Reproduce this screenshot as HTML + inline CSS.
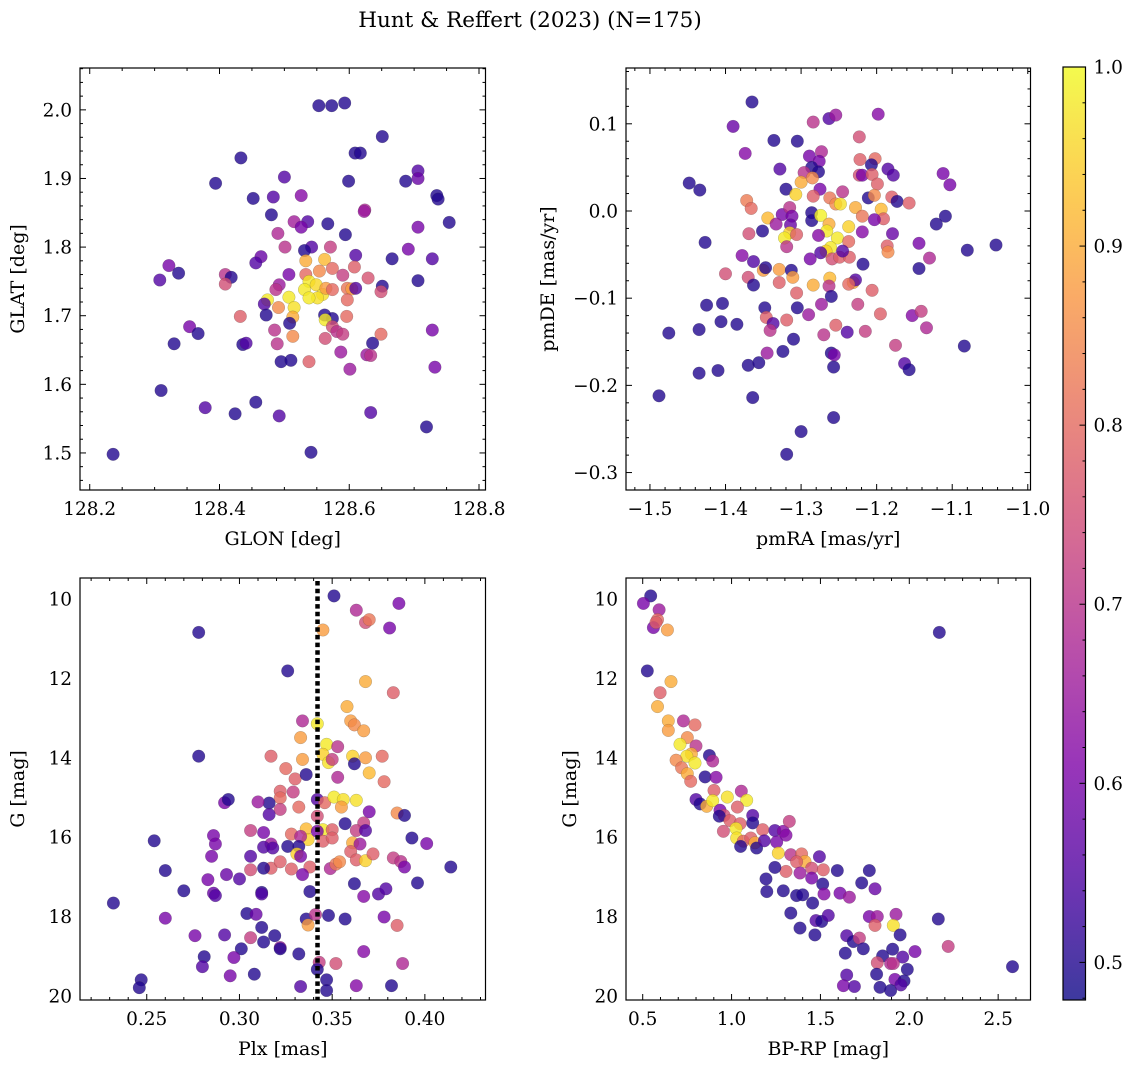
<!DOCTYPE html>
<html><head><meta charset="utf-8">
<style>
html,body{margin:0;padding:0;background:#fff;}
svg{display:block;font-family:"DejaVu Serif","Liberation Serif",serif;}
</style></head>
<body>
<svg id="fig" width="1136" height="1067" viewBox="0 0 1136 1067" xmlns="http://www.w3.org/2000/svg">
<text x="530" y="27" font-size="21.5" text-anchor="middle">Hunt &amp; Reffert (2023) (N=175)</text>
</svg>
<script>
// ---- Panel 1: GLON vs GLAT ----
const p1x=[128.553,128.573,128.593,128.651,128.609,128.617,128.433,128.394,128.500,128.599,128.687,128.706,128.706,128.452,128.483,128.526,128.735,128.737,128.480,128.624,128.623,128.515,128.536,128.526,128.567,128.754,128.490,128.594,128.706,128.501,128.571,128.542,128.531,128.610,128.691,128.666,128.728,128.464,128.456,128.322,128.337,128.308,128.409,128.418,128.409,128.507,128.533,128.562,128.608,128.629,128.706,128.651,128.590,128.574,128.554,128.533,128.538,128.549,128.531,128.559,128.551,128.538,128.564,128.574,128.492,128.487,128.597,128.604,128.610,128.649,128.597,128.474,128.507,128.515,128.491,128.513,128.469,128.472,128.508,128.562,128.574,128.563,128.574,128.581,128.590,128.596,128.432,128.354,128.367,128.330,128.436,128.441,128.485,128.489,128.513,128.563,128.587,128.636,128.649,128.627,128.633,128.495,128.510,128.538,128.601,128.728,128.732,128.310,128.378,128.424,128.456,128.492,128.633,128.719,128.541,128.236];
const p1y=[2.006,2.006,2.010,1.961,1.937,1.937,1.930,1.893,1.902,1.896,1.896,1.911,1.900,1.871,1.873,1.875,1.875,1.870,1.847,1.854,1.852,1.837,1.837,1.829,1.834,1.836,1.820,1.818,1.829,1.800,1.800,1.800,1.795,1.788,1.797,1.783,1.783,1.786,1.777,1.773,1.762,1.752,1.760,1.756,1.746,1.760,1.780,1.782,1.771,1.755,1.751,1.743,1.759,1.769,1.765,1.760,1.750,1.745,1.738,1.731,1.726,1.726,1.740,1.738,1.745,1.738,1.740,1.739,1.740,1.735,1.723,1.723,1.727,1.712,1.712,1.698,1.717,1.701,1.689,1.701,1.696,1.694,1.684,1.677,1.673,1.699,1.699,1.684,1.674,1.659,1.658,1.660,1.679,1.659,1.670,1.667,1.647,1.660,1.673,1.643,1.642,1.633,1.635,1.633,1.622,1.679,1.625,1.591,1.566,1.557,1.574,1.554,1.559,1.538,1.501,1.498];
const p1c=[.5,.5,.5,.5,.5,.5,.5,.5,.55,.5,.5,.55,.58,.5,.55,.62,.5,.5,.5,.68,.65,.66,.55,.6,.5,.5,.68,.5,.6,.7,.72,.55,.5,.55,.6,.5,.55,.58,.55,.6,.5,.55,.7,.5,.75,.6,.9,.92,.78,.76,.5,.5,.72,.8,.85,.8,.98,.96,.98,.97,.97,.98,.88,.8,.65,.7,.82,.88,.55,.75,.8,.98,.98,.97,.85,.9,.55,.5,.5,.5,.5,.98,.75,.7,.72,.8,.78,.6,.5,.5,.5,.55,.7,.7,.85,.75,.65,.5,.8,.65,.7,.5,.5,.78,.65,.6,.6,.5,.55,.5,.5,.55,.55,.5,.5,.5];
const p1xticks=[128.2,128.4,128.6,128.8];
const p1yticks=[1.5,1.6,1.7,1.8,1.9,2.0];
const p1xlabels=["128.2","128.4","128.6","128.8"];
const p1ylabels=["1.5","1.6","1.7","1.8","1.9","2.0"];

// ---- Panel 2: pmRA vs pmDE ----
const p2x=[-1.365,-1.284,-1.263,-1.254,-1.198,-1.390,-1.336,-1.305,-1.223,-1.374,-1.289,-1.273,-1.276,-1.328,-1.286,-1.277,-1.296,-1.222,-1.202,-1.207,-1.185,-1.178,-1.223,-1.219,-1.206,-1.199,-1.448,-1.434,-1.320,-1.300,-1.285,-1.275,-1.307,-1.284,-1.245,-1.211,-1.203,-1.180,-1.173,-1.157,-1.112,-1.103,-1.372,-1.366,-1.344,-1.325,-1.315,-1.312,-1.262,-1.254,-1.248,-1.228,-1.219,-1.194,-1.191,-1.203,-1.286,-1.286,-1.274,-1.263,-1.266,-1.237,-1.252,-1.261,-1.267,-1.109,-1.121,-1.333,-1.314,-1.315,-1.322,-1.306,-1.351,-1.369,-1.427,-1.319,-1.277,-1.237,-1.219,-1.179,-1.186,-1.185,-1.144,-1.080,-1.042,-1.378,-1.363,-1.288,-1.274,-1.259,-1.249,-1.236,-1.245,-1.218,-1.130,-1.144,-1.400,-1.370,-1.350,-1.347,-1.329,-1.313,-1.311,-1.363,-1.329,-1.284,-1.262,-1.263,-1.231,-1.228,-1.237,-1.306,-1.260,-1.206,-1.425,-1.404,-1.348,-1.305,-1.273,-1.225,-1.290,-1.195,-1.153,-1.141,-1.346,-1.337,-1.341,-1.319,-1.406,-1.385,-1.435,-1.475,-1.310,-1.270,-1.254,-1.239,-1.215,-1.134,-1.175,-1.084,-1.345,-1.324,-1.260,-1.256,-1.257,-1.370,-1.356,-1.435,-1.410,-1.163,-1.157,-1.488,-1.364,-1.257,-1.300,-1.319];
const p2y=[.125,.102,.106,.110,.111,.097,.081,.080,.085,.066,.063,.068,.057,.048,.050,.045,.044,.059,.060,.053,.048,.041,.041,.041,.042,.031,.032,.024,.025,.033,.038,.025,.019,.017,.022,.015,.018,.016,.011,.009,.043,.030,.012,.003,-.008,-.004,.004,-.006,.015,.008,.008,.004,-.006,.002,-.009,-.010,-.002,-.011,-.005,-.015,-.023,-.018,-.031,-.042,-.046,-.006,-.015,-.015,-.016,-.025,-.031,-.027,-.023,-.026,-.036,-.041,-.028,-.035,-.024,-.026,-.040,-.047,-.037,-.045,-.039,-.051,-.058,-.055,-.048,-.055,-.053,-.053,-.046,-.061,-.054,-.066,-.072,-.076,-.068,-.065,-.067,-.068,-.076,-.085,-.082,-.085,-.077,-.086,-.082,-.079,-.084,-.094,-.098,-.091,-.108,-.106,-.111,-.111,-.107,-.107,-.119,-.118,-.120,-.115,-.122,-.129,-.137,-.125,-.127,-.130,-.136,-.140,-.147,-.142,-.131,-.139,-.138,-.134,-.154,-.155,-.163,-.161,-.163,-.165,-.179,-.177,-.174,-.186,-.183,-.175,-.182,-.212,-.214,-.237,-.253,-.279];
const p2c=[.5,.7,.55,.65,.62,.58,.5,.5,.75,.62,.6,.68,.6,.55,.5,.5,.7,.78,.8,.5,.55,.55,.75,.6,.78,.78,.5,.5,.5,.9,.85,.6,.95,.78,.7,.5,.85,.78,.5,.78,.6,.6,.83,.8,.92,.6,.7,.6,.82,.85,.97,.9,.82,.92,.78,.6,.5,.5,.99,.9,.98,.95,.98,.98,.95,.5,.5,.65,.58,.95,.98,.78,.5,.75,.5,.7,.62,.8,.62,.58,.78,.85,.6,.5,.5,.62,.55,.6,.55,.75,.78,.78,.55,.5,.68,.5,.75,.75,.88,.5,.88,.5,.88,.5,.78,.9,.92,.7,.9,.55,.8,.78,.5,.78,.5,.5,.5,.5,.65,.72,.65,.78,.62,.72,.78,.55,.7,.78,.5,.5,.5,.5,.5,.7,.78,.55,.72,.68,.72,.5,.65,.5,.5,.6,.5,.5,.5,.5,.5,.55,.5,.5,.5,.5,.5,.5];
const p2xticks=[-1.5,-1.4,-1.3,-1.2,-1.1,-1.0];
const p2yticks=[-0.3,-0.2,-0.1,0.0,0.1];
const p2xlabels=["\u22121.5","\u22121.4","\u22121.3","\u22121.2","\u22121.1","\u22121.0"];
const p2ylabels=["\u22120.3","\u22120.2","\u22120.1","0.0","0.1"];

// ---- Panel 3: Plx vs G ----
const p3x=[.351,.386,.363,.368,.370,.381,.345,.278,.326,.368,.383,.358,.360,.362,.367,.334,.342,.333,.347,.353,.345,.348,.350,.334,.317,.278,.361,.362,.368,.377,.370,.325,.330,.336,.353,.378,.322,.322,.329,.342,.346,.351,.356,.363,.355,.332,.322,.316,.310,.292,.294,.316,.370,.385,.389,.342,.345,.336,.337,.342,.350,.357,.367,.363,.368,.306,.313,.328,.333,.345,.350,.361,.365,.360,.363,.368,.372,.383,.387,.389,.286,.287,.254,.317,.313,.318,.326,.332,.331,.333,.306,.285,.317,.313,.322,.328,.338,.349,.352,.354,.393,.401,.414,.260,.283,.293,.300,.306,.334,.270,.286,.287,.312,.312,.338,.362,.367,.375,.379,.396,.232,.260,.304,.309,.336,.337,.341,.348,.357,.378,.385,.276,.292,.312,.313,.319,.306,.322,.322,.301,.281,.280,.297,.332,.367,.343,.352,.388,.342,.295,.308,.247,.246,.347,.347,.333,.363,.382];
const p3y=[9.92,10.11,10.28,10.59,10.52,10.73,10.78,10.84,11.81,12.08,12.36,12.71,13.07,13.17,13.32,13.07,13.14,13.49,13.66,13.72,13.91,14.12,14.04,14.04,13.96,13.96,13.96,14.15,14.00,13.96,14.38,14.27,14.53,14.42,14.49,14.60,14.84,15.01,14.86,15.05,15.13,14.99,15.05,15.07,15.24,15.24,15.30,15.14,15.11,15.13,15.05,15.43,15.36,15.39,15.45,15.47,15.81,15.79,16.06,15.85,15.81,15.66,15.64,15.83,15.83,15.83,15.88,15.92,15.98,16.10,16.02,16.14,16.17,16.36,16.57,16.59,16.42,16.52,16.61,16.75,15.96,16.17,16.09,16.17,16.25,16.27,16.23,16.23,16.42,16.48,16.48,16.48,16.78,16.78,16.62,16.80,16.75,16.79,16.68,16.62,16.02,16.16,16.75,16.84,17.07,16.94,17.05,16.82,16.94,17.35,17.41,17.47,17.39,17.43,17.37,17.17,17.49,17.43,17.30,17.15,17.66,18.04,17.92,17.94,18.06,18.21,17.95,17.97,18.06,18.01,18.22,18.48,18.46,18.27,18.64,18.48,18.53,18.78,18.81,18.81,19.01,19.26,19.03,18.94,18.88,19.15,19.18,19.18,19.33,19.49,19.45,19.59,19.79,19.59,19.86,19.76,19.74,19.74];
const p3c=[.5,.6,.68,.75,.82,.6,.88,.5,.5,.9,.78,.9,.88,.85,.88,.68,.98,.88,.98,.7,.95,.97,.72,.88,.78,.5,.95,.5,.88,.8,.92,.8,.78,.5,.68,.8,.78,.8,.72,.55,.8,.98,.97,.97,.88,.8,.72,.5,.65,.6,.5,.55,.6,.85,.5,.75,.98,.92,.95,.6,.78,.5,.72,.72,.55,.72,.6,.8,.68,.78,.78,.9,.65,.78,.78,.95,.78,.72,.7,.6,.6,.6,.5,.65,.55,.55,.5,.5,.95,.6,.55,.6,.78,.5,.78,.78,.78,.68,.82,.85,.5,.6,.5,.5,.6,.58,.55,.75,.6,.5,.58,.55,.5,.55,.5,.5,.62,.55,.55,.5,.5,.6,.5,.58,.5,.88,.7,.5,.5,.6,.78,.6,.55,.5,.5,.5,.72,.65,.5,.5,.5,.55,.6,.5,.62,.72,.75,.68,.5,.6,.5,.5,.5,.5,.5,.55,.62,.5];
const p3xticks=[0.25,0.30,0.35,0.40];
const p3yticks=[10,12,14,16,18,20];
const p3xlabels=["0.25","0.30","0.35","0.40"];
const p3ylabels=["10","12","14","16","18","20"];
const plxRef=[0.3421];

// ---- Panel 4: BP-RP vs G ----
const p4x=[.545,.504,.592,.583,.560,.575,.639,2.169,.526,.659,.598,.583,.644,.644,.729,.794,.751,.710,.800,.774,.748,.794,.688,.719,.751,.770,.875,.894,.851,.913,.901,.800,.823,.860,.894,.976,1.055,1.085,1.033,.935,.958,.931,1.119,1.119,.991,1.048,1.025,1.029,.954,1.066,1.108,1.132,1.051,1.141,1.175,1.244,1.291,1.325,1.306,1.184,1.254,1.263,1.333,1.394,1.413,1.366,1.306,1.385,1.451,1.516,1.494,1.244,1.595,1.451,1.513,1.520,1.194,1.198,1.291,1.366,1.400,1.456,1.333,1.475,1.507,1.544,1.385,1.469,1.610,1.663,1.732,1.775,1.807,1.775,1.820,1.807,1.925,1.910,1.948,2.163,2.219,2.581,1.648,1.685,1.719,1.741,1.640,1.850,1.906,1.963,2.032,1.820,1.895,1.910,1.989,1.816,1.919,1.970,1.648,1.629,1.691,1.835,1.895,1.953];
const p4y=[9.92,10.11,10.27,10.52,10.72,10.59,10.78,10.84,11.81,12.08,12.36,12.71,13.07,13.31,13.07,13.17,13.49,13.66,13.70,13.90,13.96,14.13,14.06,14.25,14.40,14.59,13.94,14.08,14.48,14.49,14.82,15.05,15.16,15.22,15.08,14.99,14.84,15.07,15.24,15.32,15.45,15.47,15.45,15.64,15.58,15.66,15.78,16.02,15.85,16.10,16.02,16.14,16.23,16.27,15.81,15.83,15.85,15.60,15.95,16.09,16.12,16.40,16.44,16.42,16.61,16.62,16.86,16.90,16.78,16.82,16.49,16.76,16.84,17.03,17.18,17.43,17.05,17.37,17.35,17.47,17.45,17.66,17.91,18.10,18.12,17.97,18.29,18.46,17.41,17.51,17.15,16.84,17.30,18.00,18.00,18.22,17.94,18.22,18.46,18.06,18.75,19.26,18.48,18.63,18.54,18.81,18.92,18.99,18.82,19.02,18.88,19.16,19.18,19.18,19.33,19.45,19.58,19.62,19.47,19.74,19.76,19.78,19.86,19.72];
const p4c=[.5,.6,.65,.8,.6,.78,.88,.5,.5,.9,.78,.9,.9,.88,.68,.8,.85,.98,.7,.9,.97,.98,.85,.82,.9,.8,.5,.68,.5,.62,.78,.55,.5,.9,.98,.97,.68,.98,.78,.6,.75,.5,.55,.5,.78,.78,.98,.97,.75,.8,.78,.9,.5,.5,.78,.55,.62,.72,.62,.55,.6,.95,.7,.8,.9,.78,.78,.65,.75,.78,.55,.5,.5,.6,.5,.62,.5,.5,.5,.5,.5,.5,.5,.55,.5,.55,.5,.5,.6,.65,.5,.5,.58,.6,.65,.78,.65,.97,.5,.5,.72,.5,.55,.5,.72,.5,.5,.5,.5,.55,.6,.75,.68,.7,.5,.5,.6,.5,.55,.6,.55,.5,.5,.55];
const p4xticks=[0.5,1.0,1.5,2.0,2.5];
const p4yticks=[10,12,14,16,18,20];
const p4xlabels=["0.5","1.0","1.5","2.0","2.5"];
const p4ylabels=["10","12","14","16","18","20"];

// ---- Colorbar ----
const cbTicks=[0.5,0.6,0.7,0.8,0.9,1.0];
const cbLabels=["0.5","0.6","0.7","0.8","0.9","1.0"];
const cbMin=0.479, cbMax=1.0;

const NS="http://www.w3.org/2000/svg";
const svg=document.getElementById('fig');
const plasma=[[13,8,135],[76,2,161],[126,3,168],[169,35,149],[204,71,120],[229,107,93],[248,148,65],[253,195,40],[240,249,33]];
function cmap(v){
  let t=(v-cbMin)/(cbMax-cbMin); t=Math.max(0,Math.min(1,t));
  const s=t*8, i=Math.min(7,Math.floor(s)), f=s-i;
  const a=plasma[i], b=plasma[i+1];
  return 'rgb('+[0,1,2].map(k=>Math.round(a[k]+(b[k]-a[k])*f)).join(',')+')';
}
function mk(tag,attrs,parent){
  const e=document.createElementNS(NS,tag);
  for(const k in attrs) e.setAttribute(k,attrs[k]);
  (parent||svg).appendChild(e); return e;
}
const TF=18.5, LF=19;

function panel(o){
  const g=mk('g',{});
  
  
  const sx=v=>o.L+(v-o.xl[0])/(o.xl[1]-o.xl[0])*(o.R-o.L);
  const sy=v=>o.B-(v-o.yl[0])/(o.yl[1]-o.yl[0])*(o.B-o.T);
  const pg=mk('g',{},g);
  
  
  for(let i=0;i<o.xs.length;i++){
    const c=mk('circle',{cx:sx(o.xs[i]).toFixed(1),cy:sy(o.ys[i]).toFixed(1),r:6.3,fill:cmap(o.cs[i]),'fill-opacity':0.8,stroke:'rgba(60,60,60,0.35)','stroke-width':0.5},pg);
    
    
  }
  if(o.vline){
    const l=mk('line',{x1:sx(o.vline[0]),x2:sx(o.vline[0]),y1:o.T+3,y2:o.B,stroke:'#000','stroke-width':4.5,'stroke-dasharray':'4.5 3.2'},g);
    
    
  }
  const fr=mk('rect',{x:o.L,y:o.T,width:o.R-o.L,height:o.B-o.T,fill:'none',stroke:'#000','stroke-width':1.2},g);
  
  
  const tk=mk('g',{stroke:'#000','stroke-width':1},g);
  
  
  const eps=1e-9;
  for(let v=Math.ceil(o.xl[0]/o.xm-eps)*o.xm; v<=o.xl[1]+eps; v+=o.xm){
    const X=sx(v);
    const major=o.xt.some(t=>Math.abs(t-v)<o.xm/3);
    const len=major?6:3;
    mk('line',{x1:X,x2:X,y1:o.B,y2:o.B-len},tk);
    mk('line',{x1:X,x2:X,y1:o.T,y2:o.T+len},tk);
  }
  for(let v=Math.ceil(o.yl[0]/o.ym-eps)*o.ym; v<=o.yl[1]+eps; v+=o.ym){
    const Y=sy(v);
    const major=o.yt.some(t=>Math.abs(t-v)<o.ym/3);
    const len=major?6:3;
    mk('line',{x1:o.L,x2:o.L+len,y1:Y,y2:Y},tk);
    mk('line',{x1:o.R,x2:o.R-len,y1:Y,y2:Y},tk);
  }
  o.xt.forEach((v,i)=>{
    const t=mk('text',{x:sx(v),y:o.B+25,'font-size':TF,'text-anchor':'middle'},g);
    t.textContent=o.xlab[i];
    
    
  });
  o.yt.forEach((v,i)=>{
    const t=mk('text',{x:o.L-8,y:sy(v)+6.5,'font-size':TF,'text-anchor':'end'},g);
    t.textContent=o.ylab[i];
    
    
  });
  const xt=mk('text',{x:(o.L+o.R)/2,y:o.B+55,'font-size':LF,'text-anchor':'middle'},g);
  xt.textContent=o.xtitle;
  
  
  const yt=mk('text',{x:0,y:0,'font-size':LF,'text-anchor':'middle',transform:'translate('+o.ytx+','+((o.T+o.B)/2)+') rotate(-90)'},g);
  yt.textContent=o.ytitle;
  
  
}

panel({name:'glon-glat-panel',L:80,R:485.5,T:68,B:490,xl:[128.185,128.81],yl:[1.446,2.061],xs:p1x,ys:p1y,cs:p1c,xt:p1xticks,yt:p1yticks,xlab:p1xlabels,ylab:p1ylabels,xm:0.05,ym:0.02,xtitle:'GLON [deg]',ytitle:'GLAT [deg]',ytx:24});
panel({name:'proper-motion-panel',L:626,R:1030.5,T:68,B:490,xl:[-1.5317,-0.9964],yl:[-0.320,0.164],xs:p2x,ys:p2y,cs:p2c,xt:p2xticks,yt:p2yticks,xlab:p2xlabels,ylab:p2ylabels,xm:0.02,ym:0.02,xtitle:'pmRA [mas/yr]',ytitle:'pmDE [mas/yr]',ytx:554});
panel({name:'parallax-magnitude-panel',L:80,R:485.5,T:578,B:1000,xl:[0.214,0.4327],yl:[20.10,9.47],xs:p3x,ys:p3y,cs:p3c,xt:p3xticks,yt:p3yticks,xlab:p3xlabels,ylab:p3ylabels,xm:0.01,ym:0.5,xtitle:'Plx [mas]',ytitle:'G [mag]',ytx:24,vline:plxRef});
panel({name:'color-magnitude-panel',L:626,R:1030.5,T:578,B:1000,xl:[0.406,2.682],yl:[20.10,9.47],xs:p4x,ys:p4y,cs:p4c,xt:p4xticks,yt:p4yticks,xlab:p4xlabels,ylab:p4ylabels,xm:0.1,ym:0.5,xtitle:'BP-RP [mag]',ytitle:'G [mag]',ytx:576});

(function(){
  const L=1063,R=1085.5,T=67,B=1000;
  const g=mk('g',{});
  
  
  const defs=mk('defs',{},g);
  const lg=mk('linearGradient',{id:'cbg',x1:0,y1:1,x2:0,y2:0},defs);
  for(let k=0;k<=20;k++){
    const v=cbMin+(cbMax-cbMin)*k/20;
    mk('stop',{offset:(k/20),'stop-color':cmap(v),'stop-opacity':0.8},lg);
  }
  mk('rect',{x:L,y:T,width:R-L,height:B-T,fill:'url(#cbg)',stroke:'#000','stroke-width':1.2},g);
  const sy=v=>B-(v-cbMin)/(cbMax-cbMin)*(B-T);
  for(let v=0.48;v<=1.0001;v+=0.02){
    const major=cbTicks.some(t=>Math.abs(t-v)<0.005);
    mk('line',{x1:R,x2:R-(major?6:3),y1:sy(v),y2:sy(v),stroke:'#000','stroke-width':1},g);
  }
  cbTicks.forEach((v,i)=>{
    const t=mk('text',{x:R+8,y:sy(v)+6.5,'font-size':TF},g);
    t.textContent=cbLabels[i];
    
    
  });
})();
</script>
</body></html>
